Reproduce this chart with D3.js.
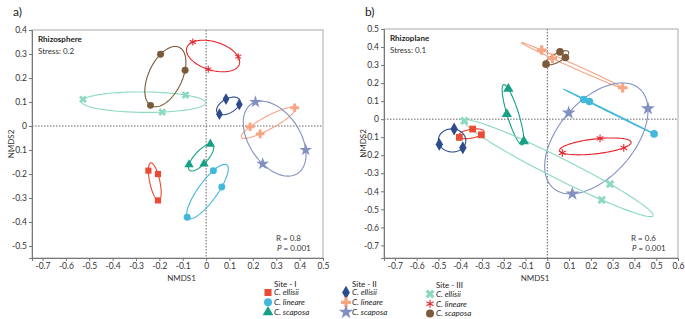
<!DOCTYPE html>
<html>
<head>
<meta charset="utf-8">
<script src="https://cdn.jsdelivr.net/npm/d3@7"></script>
<style>
  body { margin: 0; background: #fff; }
  svg { font-family: Lato, "Open Sans", sans-serif; }
  .tick text { font-size: 8.5px; fill: #333; }
</style>
</head>
<body>
<script>
//////////////// Datas ////////////////////
var sites = ["Site - I", "Site - II", "Site - III"];
var species = ["C. ellisii", "C. lineare", "C. scaposa"];
// group = site*3 + species
var groupColors = ["#e94b35", "#42b8dc", "#16a085",
                   "#2d4c8c", "#f7a582", "#8190c0",
                   "#8cd9bf", "#e4262c", "#7a5a3a"];
var groupShapes = ["square", "circle", "triangle",
                   "diamond", "plus", "star",
                   "cross", "asterisk", "circle"];

// [group, NMDS1, NMDS2]
var rhizosphere = [
  [0, -0.247, -0.186], [0, -0.206, -0.200], [0, -0.206, -0.310],
  [1,  0.031, -0.186], [1,  0.067, -0.254], [1, -0.081, -0.380],
  [2,  0.018, -0.075], [2, -0.073, -0.161], [2, -0.009, -0.158],
  [3,  0.085,  0.112], [3,  0.142,  0.090], [3,  0.057,  0.049],
  [4,  0.379,  0.076], [4,  0.188, -0.003], [4,  0.231, -0.033],
  [5,  0.211,  0.100], [5,  0.426, -0.100], [5,  0.242, -0.158],
  [6, -0.527,  0.111], [6, -0.088,  0.129], [6, -0.188,  0.058],
  [7, -0.057,  0.350], [7,  0.009,  0.236], [7,  0.137,  0.289],
  [8, -0.195,  0.299], [8, -0.090,  0.232], [8, -0.238,  0.086]
];
var rhizoplane = [
  [0, -0.343, -0.055], [0, -0.303, -0.087], [0, -0.404, -0.101],
  [1,  0.167,  0.109], [1,  0.193,  0.098], [1,  0.490, -0.082],
  [2, -0.179,  0.168], [2, -0.186,  0.028], [2, -0.108, -0.122],
  [3, -0.428, -0.055], [3, -0.496, -0.140], [3, -0.388, -0.159],
  [4, -0.026,  0.383], [4,  0.023,  0.337], [4,  0.346,  0.174],
  [5,  0.098,  0.035], [5,  0.462,  0.059], [5,  0.115, -0.414],
  [6, -0.381, -0.009], [6,  0.288, -0.360], [6,  0.250, -0.448],
  [7,  0.069, -0.187], [7,  0.242, -0.107], [7,  0.351, -0.159],
  [8,  0.058,  0.373], [8,  0.083,  0.342], [8, -0.006,  0.305]
];

var ticksA_x = d3.range(-7, 6).map(function(d){return d/10;});
var ticksA_y = d3.range(-5, 5).map(function(d){return d/10;});
var ticksB_x = d3.range(-7, 7).map(function(d){return d/10;});
var ticksB_y = d3.range(-7, 6).map(function(d){return d/10;});

var panels = [
  {label: "a)", title: "Rhizosphere", stress: "Stress: 0.2", R: "R = 0.8", P: "0.001",
   pts: rhizosphere, xdom: [-0.745, 0.5], ydom: [-0.55, 0.4],
   xr: [32, 323], yr: [258, 30], xt: ticksA_x, yt: ticksA_y, size: 38},
  {label: "b)", title: "Rhizoplane", stress: "Stress: 0.1", R: "R = 0.6", P: "0.001",
   pts: rhizoplane, xdom: [-0.75, 0.6], ydom: [-0.77, 0.5],
   xr: [384, 678], yr: [258, 29], xt: ticksB_x, yt: ticksB_y, size: 46}
];

//////////////// SVG ////////////////////
var svg = d3.select("body").append("svg")
  .attr("width", 685)
  .attr("height", 319);

function symbolPath(shape, size) {
  var types = {square: d3.symbolSquare, circle: d3.symbolCircle, triangle: d3.symbolTriangle,
    diamond: d3.symbolDiamond, plus: d3.symbolCross, star: d3.symbolStar,
    cross: d3.symbolCross, asterisk: d3.symbolAsterisk};
  var s = size;
  if (shape == "star") s = size * 1.3;
  if (shape == "plus") s = size * 1.1;
  if (shape == "diamond") s = size * 1.05;
  if (shape == "asterisk") s = size * 0.9;
  return d3.symbol().type(types[shape]).size(s)();
}

function drawMarker(g, x, y, grp, size) {
  var shape = groupShapes[grp];
  var col = groupColors[grp];
  var p = g.append("path")
    .attr("d", symbolPath(shape, size))
    .attr("transform", "translate(" + x + "," + y + ")" + (shape == "cross" ? " rotate(45)" : ""));
  if (shape == "asterisk") {
    p.attr("fill", "none").attr("stroke", col).attr("stroke-width", 1.1);
  } else {
    p.attr("fill", col);
  }
}

// ellipse through the group's points (covariance ellipse, d^2 = 2)
function ellipsePts(pts) {
  var n = pts.length;
  var mx = d3.mean(pts, function(d){return d[1];});
  var my = d3.mean(pts, function(d){return d[2];});
  var a = 0, b = 0, c = 0;
  pts.forEach(function(d){
    a += (d[1]-mx)*(d[1]-mx);
    b += (d[1]-mx)*(d[2]-my);
    c += (d[2]-my)*(d[2]-my);
  });
  a /= n; b /= n; c /= n;
  var l11 = Math.sqrt(a), l21 = b / l11, l22 = Math.sqrt(Math.max(0, c - l21*l21));
  var k = Math.SQRT2;
  return d3.range(0, 121).map(function(i){
    var t = i / 120 * 2 * Math.PI;
    var u = Math.cos(t), v = Math.sin(t);
    return [mx + k*(l11*u), my + k*(l21*u + l22*v)];
  });
}

function drawPanel(cfg) {
  var x = d3.scaleLinear().domain(cfg.xdom).range(cfg.xr);
  var y = d3.scaleLinear().domain(cfg.ydom).range(cfg.yr);
  var g = svg.append("g");

  // frame
  g.append("rect")
    .attr("x", cfg.xr[0]).attr("y", cfg.yr[1])
    .attr("width", cfg.xr[1]-cfg.xr[0]).attr("height", cfg.yr[0]-cfg.yr[1])
    .attr("fill", "none").attr("stroke", "#aaa").attr("stroke-width", 1);

  // zero lines
  g.append("line")
    .attr("x1", x(0)).attr("x2", x(0)).attr("y1", cfg.yr[1]).attr("y2", cfg.yr[0])
    .attr("stroke", "#666").attr("stroke-width", 1).attr("stroke-dasharray", "1.5,1.5");
  g.append("line")
    .attr("x1", cfg.xr[0]).attr("x2", cfg.xr[1]).attr("y1", y(0)).attr("y2", y(0))
    .attr("stroke", "#666").attr("stroke-width", 1).attr("stroke-dasharray", "1.5,1.5");

  // axes
  var xAxis = d3.axisBottom(x).tickValues(cfg.xt).tickSize(3).tickPadding(2)
    .tickFormat(function(d){return d == 0 ? "0" : d3.format(".1f")(d).replace("−", "-");});
  var yAxis = d3.axisLeft(y).tickValues(cfg.yt).tickSize(3).tickPadding(2)
    .tickFormat(function(d){return d == 0 ? "0" : d3.format(".1f")(d).replace("−", "-");});
  var xa = g.append("g").attr("transform", "translate(0," + cfg.yr[0] + ")").call(xAxis);
  var ya = g.append("g").attr("transform", "translate(" + cfg.xr[0] + ",0)").call(yAxis);
  [xa, ya].forEach(function(a){
    a.select(".domain").attr("stroke", "#777");
    a.selectAll(".tick line").attr("stroke", "#777");
    a.attr("font-family", null).attr("font-size", null);
  });

  // ellipses
  var line = d3.line()
    .x(function(d){return x(d[0]);})
    .y(function(d){return y(d[1]);});
  d3.range(9).forEach(function(grp){
    var pts = cfg.pts.filter(function(d){return d[0] == grp;});
    g.append("path")
      .attr("d", line(ellipsePts(pts)))
      .attr("fill", "none")
      .attr("stroke", groupColors[grp])
      .attr("stroke-width", 1.1);
  });

  // points
  cfg.pts.forEach(function(d){
    drawMarker(g, x(d[1]), y(d[2]), d[0], cfg.size);
  });

  // texts
  g.append("text").attr("x", cfg.xr[0]+6).attr("y", cfg.yr[1]+12)
    .attr("font-size", 8).attr("font-weight", "bold").attr("fill", "#222").text(cfg.title);
  g.append("text").attr("x", cfg.xr[0]+6).attr("y", cfg.yr[1]+24)
    .attr("font-size", 8).attr("fill", "#333").text(cfg.stress);
  g.append("text").attr("x", cfg.xr[1]-47).attr("y", cfg.yr[0]-17)
    .attr("font-size", 8).attr("fill", "#333").text(cfg.R);
  var pt = g.append("text").attr("x", cfg.xr[1]-46).attr("y", cfg.yr[0]-7)
    .attr("font-size", 8).attr("fill", "#333");
  pt.append("tspan").attr("font-style", "italic").text("P");
  pt.append("tspan").text(" = " + cfg.P);

  g.append("text").attr("x", (cfg.xr[0]+cfg.xr[1])/2 + 4).attr("y", cfg.yr[0]+23)
    .attr("text-anchor", "middle").attr("font-size", 8).attr("fill", "#333").text("NMDS1");
  g.append("text")
    .attr("transform", "translate(" + (cfg.xr[0]-18) + "," + ((cfg.yr[0]+cfg.yr[1])/2) + ") rotate(-90)")
    .attr("text-anchor", "middle").attr("font-size", 8).attr("fill", "#333").text("NMDS2");

  g.append("text").attr("x", cfg.xr[0] - 19).attr("y", 16)
    .attr("font-size", 12).attr("fill", "#222").text(cfg.label);
}

panels.forEach(drawPanel);

//////////////// Legende ////////////////
var legendX = [268, 346, 430];
var legendY = [286.5, 286.5, 288];
sites.forEach(function(s, i){
  var lg = svg.append("g");
  lg.append("text").attr("x", legendX[i] + 6).attr("y", legendY[i])
    .attr("font-size", 8).attr("fill", "#222").text(s);
  species.forEach(function(sp, j){
    var yy = legendY[i] + 6 + j*9.8;
    drawMarker(lg, legendX[i], yy, i*3 + j, 50);
    lg.append("text").attr("x", legendX[i] + 6).attr("y", yy + 2.8)
      .attr("font-size", 8).attr("font-style", "italic").attr("fill", "#222").text(sp);
  });
});
</script>
</body>
</html>
